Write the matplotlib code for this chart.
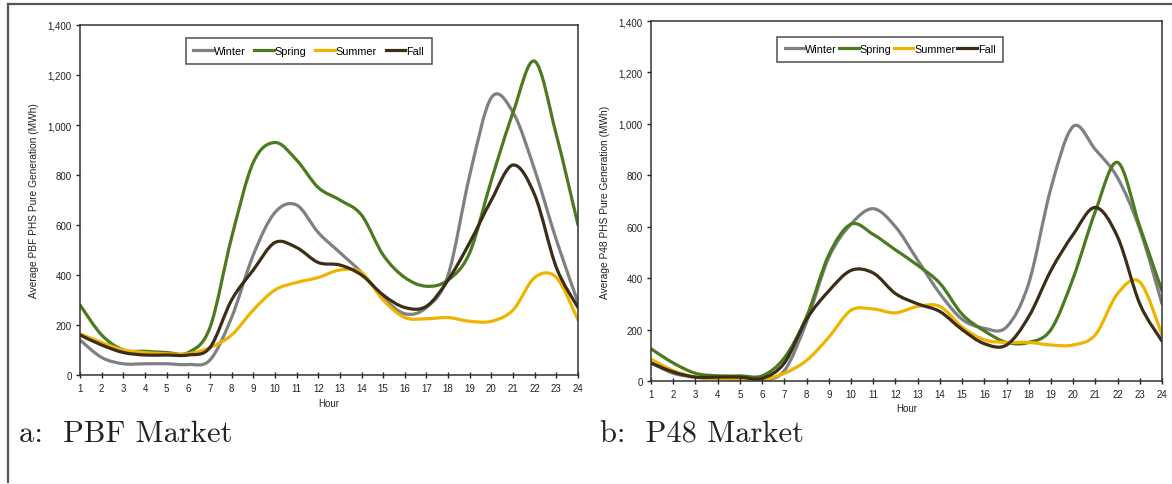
import numpy as np
import matplotlib.pyplot as plt
from matplotlib.path import Path
from matplotlib.patches import PathPatch
from matplotlib.lines import Line2D
from matplotlib.ticker import FuncFormatter

# datos horarios por estacion
horas = np.arange(1, 25)
estaciones = ["Winter", "Spring", "Summer", "Fall"]
colores = ["#7f8083", "#4c7a1f", "#f0b400", "#3b2d16"]

pbf_winter = [140, 70, 45, 45, 45, 42, 60, 230, 480, 650, 680, 570,
              490, 410, 310, 245, 270, 400, 800, 1110, 1050, 820, 540, 290]
pbf_spring = [280, 160, 100, 95, 90, 90, 190, 550, 850, 930, 860, 750,
              700, 640, 480, 390, 355, 380, 490, 780, 1050, 1255, 960, 600]
pbf_summer = [165, 130, 100, 90, 85, 85, 110, 160, 260, 340, 370, 390,
              420, 410, 300, 230, 225, 230, 215, 215, 260, 390, 390, 220]
pbf_fall = [160, 120, 90, 80, 80, 80, 110, 300, 420, 530, 510, 450,
            440, 400, 320, 270, 275, 380, 530, 700, 840, 720, 430, 270]

p48_winter = [70, 30, 15, 10, 10, 5, 40, 230, 480, 610, 670, 600,
              470, 340, 240, 205, 210, 380, 750, 990, 900, 790, 590, 300]
p48_spring = [125, 70, 30, 20, 20, 20, 90, 250, 490, 610, 570, 510,
              450, 380, 260, 195, 150, 150, 200, 400, 660, 850, 600, 350]
p48_summer = [85, 40, 15, 10, 5, 5, 30, 80, 170, 275, 280, 265,
              290, 290, 210, 160, 150, 150, 140, 140, 180, 340, 385, 180]
p48_fall = [70, 35, 15, 15, 15, 10, 70, 240, 350, 430, 420, 340,
            300, 270, 200, 145, 140, 250, 430, 570, 675, 560, 300, 155]

paneles = [
    ("a:  PBF Market", "Average PBF PHS Pure Generation (MWh)",
     [pbf_winter, pbf_spring, pbf_summer, pbf_fall]),
    ("b:  P48 Market", "Average P48 PHS Pure Generation (MWh)",
     [p48_winter, p48_spring, p48_summer, p48_fall]),
]


def curva_suave(x, y):
    # linea suavizada tipo Excel: segmentos Bezier cubicos (Catmull-Rom)
    p = np.column_stack([x, y]).astype(float)
    ext = np.vstack([p[0], p, p[-1]])
    verts = [p[0]]
    codes = [Path.MOVETO]
    for i in range(len(p) - 1):
        p0, p1, p2, p3 = ext[i], ext[i + 1], ext[i + 2], ext[i + 3]
        verts += [p1 + (p2 - p0) / 6, p2 - (p3 - p1) / 6, p2]
        codes += [Path.CURVE4] * 3
    return Path(verts, codes)


fig = plt.figure(figsize=(11.72, 4.85), dpi=100)
plt.rcParams['font.family'] = ['Liberation Sans', 'DejaVu Sans']

posiciones = [[0.0683, 0.2247, 0.4249, 0.7217],
              [0.5555, 0.2124, 0.4360, 0.7422]]
legendas = [(0.459, 0.977), (0.468, 0.972)]
captions_x = [0.016, 0.512]

for k, (caption, ylabel, series) in enumerate(paneles):
    ax = fig.add_axes(posiciones[k])
    for serie, color in zip(series, colores):
        patch = PathPatch(curva_suave(horas, serie), fill=False,
                          edgecolor=color, lw=2.3, capstyle='round',
                          joinstyle='round')
        ax.add_patch(patch)

    ax.set_xlim(1, 24)
    ax.set_ylim(0, 1400)
    ax.set_xticks(horas)
    ax.set_yticks(range(0, 1401, 200))
    ax.yaxis.set_major_formatter(FuncFormatter(lambda v, p: f"{v:,.0f}"))
    ax.tick_params(axis='y', direction='out', length=3, width=1,
                   labelsize=7, pad=3, colors='#222222')
    ax.tick_params(axis='x', direction='inout', length=4, width=1,
                   labelsize=7, pad=4, colors='#222222')
    for s in ax.spines.values():
        s.set_color('#333333')
        s.set_linewidth(1.1)
    ax.set_xlabel("Hour", fontsize=7, labelpad=3, color='#222222')
    ax.set_ylabel(ylabel, fontsize=7.3, labelpad=6, color='#222222')

    handles = [Line2D([], [], color=c, lw=2.3) for c in colores]
    leg = ax.legend(handles, estaciones, loc='upper center',
                    bbox_to_anchor=legendas[k], ncol=4, fontsize=7.8,
                    handlelength=1.8, handletextpad=0.1,
                    columnspacing=0.8 if k == 0 else 0.2,
                    frameon=True, fancybox=False, borderpad=0.7)
    leg.get_frame().set_edgecolor('#222222')
    leg.get_frame().set_linewidth(1.1)

    fig.text(captions_x[k], 0.088, caption, fontsize=22,
             family=['cmr10', 'DejaVu Serif'], color='#222222')

# marco exterior: solo borde superior e izquierdo
fig.add_artist(Line2D([0.007, 1.0], [0.99, 0.99], transform=fig.transFigure,
                      color='#555555', lw=1.6))
fig.add_artist(Line2D([0.007, 0.007], [0.99, 0.004], transform=fig.transFigure,
                      color='#555555', lw=1.6))

fig.savefig("out.png", dpi=100)
